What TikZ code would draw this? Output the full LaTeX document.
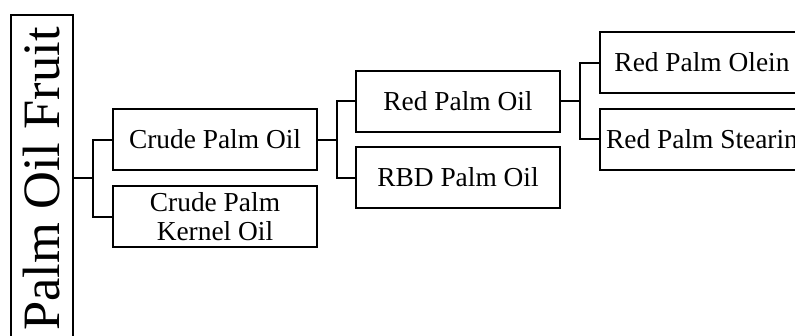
\documentclass[tikz,border=0pt]{standalone}
\usepackage{fontspec}
\setmainfont{Liberation Serif}
\begin{document}
\begin{tikzpicture}[x=1pt,y=-1pt,
  box/.style={draw,line width=2pt,minimum width=204pt,minimum height=61pt,inner sep=0pt,
    font=\fontsize{27.4}{29}\selectfont,align=center},
  conn/.style={line width=2pt}]
\useasboundingbox (0,0) rectangle (795,335);
\clip (0,0) rectangle (795,335);
\node[draw,line width=2pt,minimum width=62pt,minimum height=326pt,inner sep=0pt] (fruit) at (42,178) {};
\node[rotate=90,anchor=base,inner sep=0pt,font=\fontsize{52.5}{55}\selectfont] (fruittext) at (59,179) {Palm Oil Fruit};
\node[box] (cpo) at (215,139.5) {Crude Palm Oil};
\node[box] (cpko) at (215,216.5) {Crude Palm\\Kernel Oil};
\node[box] (rpo) at (458,101) {Red Palm Oil};
\node[box] (rbd) at (458,177.5) {RBD Palm Oil};
\node[box,minimum width=204pt] (olein) at (702,62.5) {Red Palm Olein};
\node[box,minimum width=204pt] (stearin) at (702,139) {Red Palm Stearin};
\coordinate (j1) at (93,178);
\coordinate (j2) at (337,139.5);
\coordinate (j3) at (580,101);
\draw[conn] (fruit.east) -- (j1);
\draw[conn] (cpo.west) -| (j1) |- (cpko.west);
\draw[conn] (cpo.east) -- (j2);
\draw[conn] (rpo.west) -| (j2) |- (rbd.west);
\draw[conn] (rpo.east) -- (j3);
\draw[conn] (olein.west) -| (j3) |- (stearin.west);
\end{tikzpicture}
\end{document}
